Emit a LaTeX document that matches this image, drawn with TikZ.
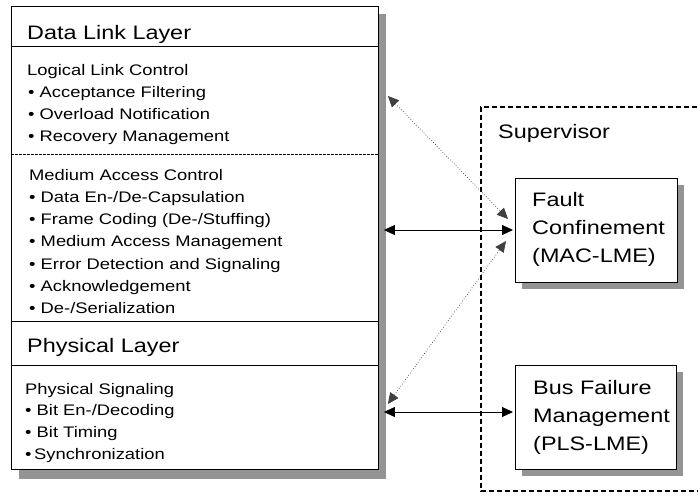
\documentclass[tikz,border=0pt]{standalone}
\usepackage{fontspec}
\setmainfont{Liberation Sans}[FakeStretch=1.2]
\usetikzlibrary{arrows.meta,calc}
\begin{document}
\begin{tikzpicture}[x=1pt,y=-1pt,
  panel/.style={draw=black,line width=0.9pt,fill=white,inner sep=0pt,anchor=north west},
  shadowfill/.style={fill=black,fill opacity=0.42,draw=none},
  title/.style={anchor=base west,inner sep=0pt,font=\fontsize{19.5}{23}\selectfont},
  item/.style={anchor=base west,inner sep=0pt,font=\fontsize{15.3}{18}\selectfont},
  boxtext/.style={anchor=north west,inner sep=0pt,align=left,font=\fontsize{19.5}{28}\selectfont},
  sep/.style={line width=0.8pt},
  dsep/.style={line width=0.8pt,dash pattern=on 2.5pt off 1.5pt},
  supbox/.style={line width=1.3pt,dash pattern=on 5pt off 3pt},
  linktip/.tip={Triangle[length=11pt,width=10pt]},
  solidlink/.style={line width=1pt,linktip-linktip},
  dotlink/.style={line width=0.7pt,black!75,dotted,linktip-linktip}
]
\useasboundingbox (0,0) rectangle (698,495);

% drop shadows, painted first so the panels cover them
\path[shadowfill] (19,14) rectangle (386,479);
\path[shadowfill] (522,185) rectangle (684,289);
\path[shadowfill] (522,372) rectangle (683,476);

% protocol stack
\node[panel,minimum width=367pt,minimum height=463pt] (stack) at (11,6) {};
\draw[sep] (stack.west |- 0,46) -- (stack.east |- 0,46);
\draw[dsep] (stack.west |- 0,154) -- (stack.east |- 0,154);
\draw[sep] (stack.west |- 0,321) -- (stack.east |- 0,321);
\draw[sep] (stack.west |- 0,365) -- (stack.east |- 0,365);

\node[title] (dll) at (27,40) {Data Link Layer};
\node[item] (llc) at (27,75) {Logical Link Control};
\foreach \t [count=\i] in {Acceptance Filtering,Overload Notification,Recovery Management}
  \node[item] (llc\i) at (28,75+22.3*\i) {• \t};

\node[item] (mac) at (29,180) {Medium Access Control};
\foreach \t [count=\i] in {Data En-/De-Capsulation,Frame Coding (De-/Stuffing),Medium Access Management,Error Detection and Signaling,Acknowledgement,De-/Serialization}
  \node[item] (mac\i) at (29,180+22.3*\i) {• \t};

\node[title] (phy) at (27,352) {Physical Layer};
\node[item] (pls) at (25,394) {Physical Signaling};
\foreach \t [count=\i] in {Bit En-/Decoding,Bit Timing}
  \node[item] (pls\i) at (25,394+21.7*\i) {• \t};
\node[item] (pls3) at (25,459) {•\,Synchronization};

% supervisor
\draw[supbox] (705,107) -- (481,107) -- (481,491) -- (705,491);
\node[title] (sup) at (498,138) {Supervisor};

\node[panel,minimum width=162pt,minimum height=104pt] (fault) at (515,178) {};
\node[boxtext] (faulttext) at (532,192) {Fault\\Confinement\\(MAC-LME)};

\node[panel,minimum width=161pt,minimum height=104pt] (bus) at (515,365) {};
\node[boxtext] (bustext) at (533,380) {Bus Failure\\Management\\(PLS-LME)};

% links between stack and supervisor
\coordinate (s1) at ($(stack.east |- 0,96)+(9,0)$);
\coordinate (f1) at ($(fault.west |- 0,219)+(-7,0)$);
\coordinate (s2) at ($(stack.east |- 0,230)+(5,0)$);
\coordinate (f2) at ($(fault.west |- 0,230)+(-2,0)$);
\coordinate (s3) at ($(stack.east |- 0,404)+(9,0)$);
\coordinate (f3) at ($(fault.west |- 0,241)+(-9,0)$);
\coordinate (s4) at ($(stack.east |- 0,412)+(5,0)$);
\coordinate (b4) at ($(bus.west |- 0,412)+(-2,0)$);

\draw[dotlink] (s1) -- (f1);
\draw[solidlink] (s2) -- (f2);
\draw[dotlink] (s3) -- (f3);
\draw[solidlink] (s4) -- (b4);
\end{tikzpicture}
\end{document}
